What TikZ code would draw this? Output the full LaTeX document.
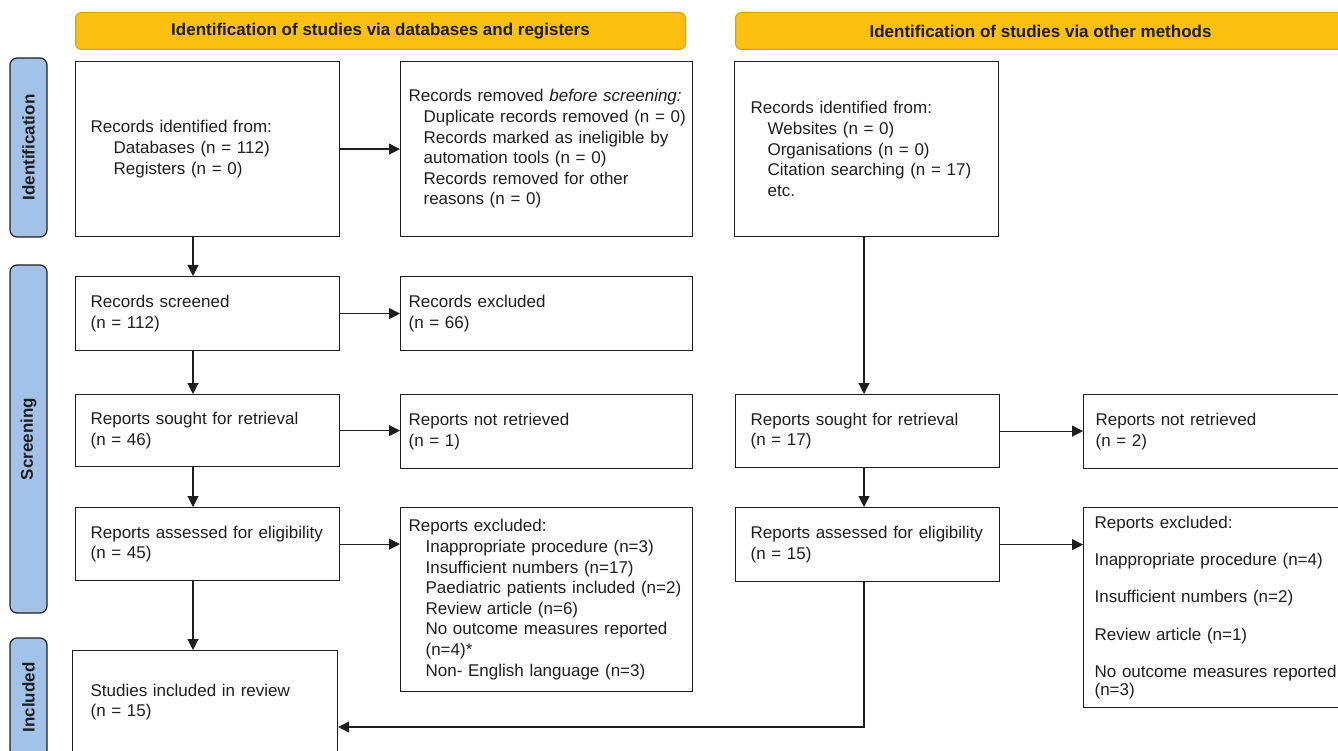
\documentclass[tikz,border=0pt]{standalone}
\usepackage{fontspec}
\setmainfont{Liberation Sans}
\usetikzlibrary{arrows.meta}
\definecolor{hdrgold}{RGB}{252,192,16}
\definecolor{hdrline}{RGB}{214,160,20}
\definecolor{sideblue}{RGB}{163,194,232}
\definecolor{ink}{RGB}{30,30,30}
\begin{document}
\begin{tikzpicture}[x=1pt, y=-1pt,
  every node/.style={font=\fontsize{17}{20.6}\selectfont, text=ink},
  hdr/.style={rectangle, rounded corners=6pt, draw=hdrline, fill=hdrgold, line width=1pt,
    minimum width=610pt, minimum height=37pt, anchor=north west, font=\fontsize{17}{20.6}\selectfont\bfseries},
  side/.style={rectangle, rounded corners=7pt, draw=ink, fill=sideblue, line width=1.2pt,
    minimum height=37pt, rotate=90, font=\fontsize{17}{20.6}\selectfont\bfseries},
  box/.style={rectangle, draw=ink, line width=1.2pt, anchor=north west, align=left, inner ysep=2pt},
  colL/.style={box, minimum width=264pt, text width=234pt, inner xsep=15pt},
  colM/.style={box, minimum width=292pt, text width=276pt, inner xsep=8pt},
  colR/.style={box, minimum width=270pt, text width=246pt, inner xsep=12pt},
  arr/.style={-{Triangle[length=11pt, width=11pt]}, line width=1.2pt, draw=ink}
]
\useasboundingbox (0,0) rectangle (1338,751);
\clip (0,0) rectangle (1338,751);

\node[hdr] (hdrDb) at (75,12) {Identification of studies via databases and registers};
\node[hdr] (hdrOther) at (735,12) {Identification of studies via other methods};

\node[side, minimum width=179pt] (sideId) at (28.5,147.5) {Identification};
\node[side, minimum width=348pt] (sideScr) at (28.5,439) {Screening};
\node[side, minimum width=119pt] (sideInc) at (28.5,697.5) {Included};

\node[colL, minimum height=175pt] (idDb) at (75,61) {Records identified from:\\
  \hspace*{23pt}Databases (n = 112)\\
  \hspace*{23pt}Registers (n = 0)};
\node[colM, minimum height=175pt] (idRemoved) at (400,61) {Records removed \textit{before screening:}\\
  \hspace*{15pt}\mbox{Duplicate records removed (n = 0)}\\
  \hspace*{15pt}Records marked as ineligible by\\
  \hspace*{15pt}automation tools (n = 0)\\
  \hspace*{15pt}Records removed for other\\
  \hspace*{15pt}reasons (n = 0)};
\node[colL, minimum height=175pt, inner xsep=16pt, text width=232pt] (idOther) at (734,61) {Records identified from:\\
  \hspace*{17pt}Websites (n = 0)\\
  \hspace*{17pt}Organisations (n = 0)\\
  \hspace*{17pt}Citation searching (n = 17)\\
  \hspace*{17pt}etc.};

\node[colL, minimum height=74pt] (scrRecords) at (75,276) {Records screened\\(n = 112)};
\node[colM, minimum height=74pt] (scrExcluded) at (400,276) {Records excluded\\(n = 66)};

\node[colL, minimum height=72pt] (retLeft) at (75,394) {Reports sought for retrieval\\(n = 46)};
\node[colM, minimum height=74pt] (notRetLeft) at (400,394) {Reports not retrieved\\(n = 1)};
\node[colL, minimum height=73pt] (retRight) at (735,394) {Reports sought for retrieval\\(n = 17)};
\node[colR, minimum height=74pt] (notRetRight) at (1083,394) {Reports not retrieved\\(n = 2)};

\node[colL, minimum height=73pt] (elLeft) at (75,507) {Reports assessed for eligibility\\(n = 45)};
\node[colM, minimum height=184pt] (exclLeft) at (400,507) {Reports excluded:\\
  \hspace*{17pt}Inappropriate procedure (n=3)\\
  \hspace*{17pt}Insufficient numbers (n=17)\\
  \hspace*{17pt}\mbox{Paediatric patients included (n=2)}\\
  \hspace*{17pt}Review article (n=6)\\
  \hspace*{17pt}No outcome measures reported\\
  \hspace*{17pt}(n=4)*\\
  \hspace*{17pt}Non- English language (n=3)};
\node[colL, minimum height=74pt] (elRight) at (735,507) {Reports assessed for eligibility\\(n = 15)};
\node[colR, minimum height=200pt, inner xsep=11pt, text width=248pt] (exclRight) at (1083,507) {Reports excluded:\\[16.7pt]
  Inappropriate procedure (n=4)\\[16.7pt]
  Insufficient numbers (n=2)\\[16.7pt]
  Review article (n=1)\\[16.7pt]
  No outcome measures reported\\[-2pt]
  (n=3)};

\node[colL, minimum height=103pt, minimum width=265pt, inner xsep=18pt, text width=229pt] (studies) at (72,650) {Studies included in review\\(n = 15)};

\coordinate (spineL) at (193,0);
\coordinate (spineR) at (864,0);
\coordinate (back) at (864,727);

\draw[arr] (idDb.south -| spineL) -- (scrRecords.north -| spineL);
\draw[arr] (scrRecords.south -| spineL) -- (retLeft.north -| spineL);
\draw[arr] (retLeft.south -| spineL) -- (elLeft.north -| spineL);
\draw[arr] (elLeft.south -| spineL) -- (studies.north -| spineL);
\draw[arr] (idDb.east) -- (idDb.east -| idRemoved.west);
\draw[arr] (scrRecords.east) -- (scrRecords.east -| scrExcluded.west);
\draw[arr] (retLeft.east) -- (retLeft.east -| notRetLeft.west);
\draw[arr] (elLeft.east) -- (elLeft.east -| exclLeft.west);

\draw[arr] (idOther.south -| spineR) -- (retRight.north -| spineR);
\draw[arr] (retRight.south -| spineR) -- (elRight.north -| spineR);
\draw[arr] (retRight.east) -- (retRight.east -| notRetRight.west);
\draw[arr] (elRight.east) -- (elRight.east -| exclRight.west);
\draw[arr] (elRight.south -| back) -- (back) -- (back -| studies.east);
\end{tikzpicture}
\end{document}
